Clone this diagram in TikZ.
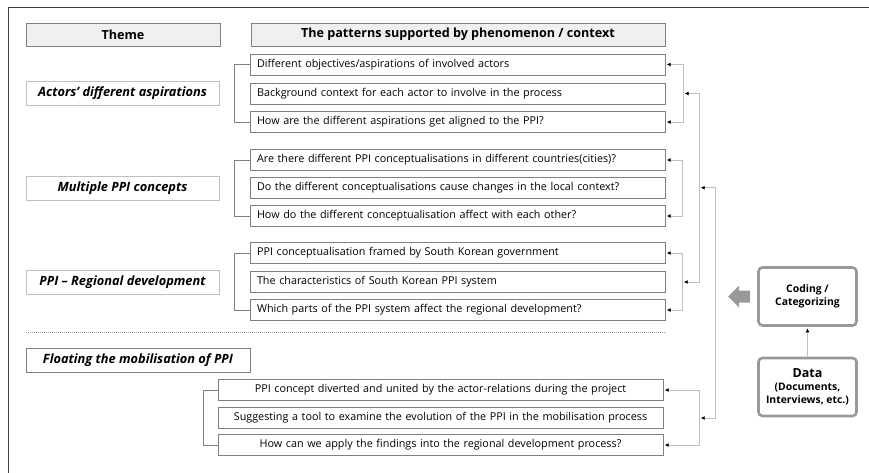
\documentclass[tikz,border=0pt]{standalone}
\usepackage{fontspec}
\setmainfont{Open Sans}
\usetikzlibrary{calc,arrows.meta}

\tikzset{
	headbox/.style={draw=black!50, fill=black!6, font=\bfseries\fontsize{12.6}{14}\selectfont, minimum height=23pt, inner sep=0pt},
	themebox/.style={draw=black!25, font=\bfseries\itshape\fontsize{12.8}{14}\selectfont, minimum width=193pt, minimum height=24pt, inner sep=0pt},
	rowbox/.style={draw=black!50, font=\fontsize{10.8}{12}\selectfont, text width=401pt, inner xsep=7pt, inner ysep=0pt, minimum height=21pt, align=left},
	lowbox/.style={rowbox, text width=431pt, align=center},
	bracket/.style={draw=black!50, line width=0.6pt},
	link/.style={draw=black!25, line width=0.8pt, {Latex[black,length=4pt,width=4pt]}-{Latex[black,length=4pt,width=4pt]}, shorten <=1.5pt, shorten >=1.5pt},
	onelink/.style={link, -{Latex[black,length=4pt,width=4pt]}, shorten <=0pt},
	sidebox/.style={draw=black!40, line width=2.6pt, rounded corners=4pt, minimum width=98pt, minimum height=58pt, align=center, font=\bfseries\fontsize{10.4}{13}\selectfont}
}

\begin{document}
\begin{tikzpicture}[x=1pt, y=-1pt]
		%%%%% START %%%%%
		\useasboundingbox (0,0) rectangle (869,472);
		\clip (0,0) rectangle (869,472);
		
		% outer frame
		\draw[line width=1.8pt, black!75] (8.5,490) |- (890,7.5);
		
		% headers
		\node[headbox, minimum width=194pt] (themehd) at (123,34.5) {Theme};
		\node[headbox, minimum width=414pt] (pathd) at (458,34.5) {The patterns supported by phenomenon / context};
		
		% themes
		\node[themebox] (thA) at (122.5,93.5) {Actors’ different aspirations};
		\node[themebox] (thB) at (122.5,188.5) {Multiple PPI concepts};
		\node[themebox] (thC) at (122.5,282) {PPI -- Regional development};
		\node[themebox, draw=black!50, minimum width=224pt] (thD) at (138,360) {Floating the mobilisation of PPI};
		
		% patterns
		\node[rowbox] (a1) at (457.5,64.5) {Different objectives/aspirations of involved actors};
		\node[rowbox] (a2) at (457.5,93.5) {Background context for each actor to involve in the process};
		\node[rowbox] (a3) at (457.5,122) {How are the different aspirations get aligned to the PPI?};
		
		\node[rowbox] (b1) at (457.5,160) {Are there different PPI conceptualisations in different countries(cities)?};
		\node[rowbox] (b2) at (457.5,188) {Do the different conceptualisations cause changes in the local context?};
		\node[rowbox] (b3) at (457.5,216) {How do the different conceptualisation affect with each other?};
		
		\node[rowbox] (c1) at (457.5,253) {PPI conceptualisation framed by South Korean government};
		\node[rowbox] (c2) at (457.5,282) {The characteristics of South Korean PPI system};
		\node[rowbox] (c3) at (457.5,310) {Which parts of the PPI system affect the regional development?};
		
		\draw[black!40, dash pattern=on 1pt off 1pt] (26,332) -- (665,332);
		
		\node[lowbox] (d1) at (440.5,390) {PPI concept diverted and united by the actor-relations during the project};
		\node[lowbox] (d2) at (440.5,418) {Suggesting a tool to examine the evolution of the PPI in the mobilisation process};
		\node[lowbox] (d3) at (440.5,445) {How can we apply the findings into the regional development process?};
		
		% left brackets
		\draw[bracket] (a1.west) -- ++(-16,0) |- (a3.west);
		\draw[bracket] (b1.west) -- ++(-16,0) |- (b3.west);
		\draw[bracket] (c1.west) -- ++(-16,0) |- (c3.west);
		\draw[bracket] (d1.west) -- ++(-15,0) |- (d3.west);
		
		% right links
		\draw[link] (a1.east) -- ++(18,0) coordinate (a1r) |- (a3.east);
		\draw[link] (b1.east) -- ++(17,0) |- (b3.east);
		\draw[link] (c1.east) -- ++(17,0) coordinate (c1r) |- (c3.east);
		\draw[link] (d1.east) -- ++(36,0) coordinate (d1r) |- (d3.east);
		
		\coordinate (a2r) at (a1r |- a2.east);
		\coordinate (c2r) at (c1r |- c2.east);
		\coordinate (d2r) at (d1r |- d2.east);
		\draw[link] (a2r) -- ++(16,0) coordinate (acr) |- (c2r);
		\coordinate (acm) at ($(acr)!0.5!(acr |- c2r)$);
		\draw[link] (acm) -- ++(16,0) |- (d2r);
		
		% coding and data
		\node[sidebox] (coding) at (807.5,296.5) {Coding /\\Categorizing};
		\node[sidebox] (data) at (807.5,387) {{\fontsize{12.5}{15}\selectfont Data}\\(Documents,\\Interviews, etc.)};
		\draw[onelink] (data) -- (coding);
		
		\fill[black!40] ([xshift=-7]coding.west) ++(0,-6) -- ++(-11,0) -- ++(0,-5) -- ++(-11,11) -- ++(11,11) -- ++(0,-5) -- ++(11,0) -- cycle;
		
		%%%%% END %%%%%
	\end{tikzpicture}
\end{document}
